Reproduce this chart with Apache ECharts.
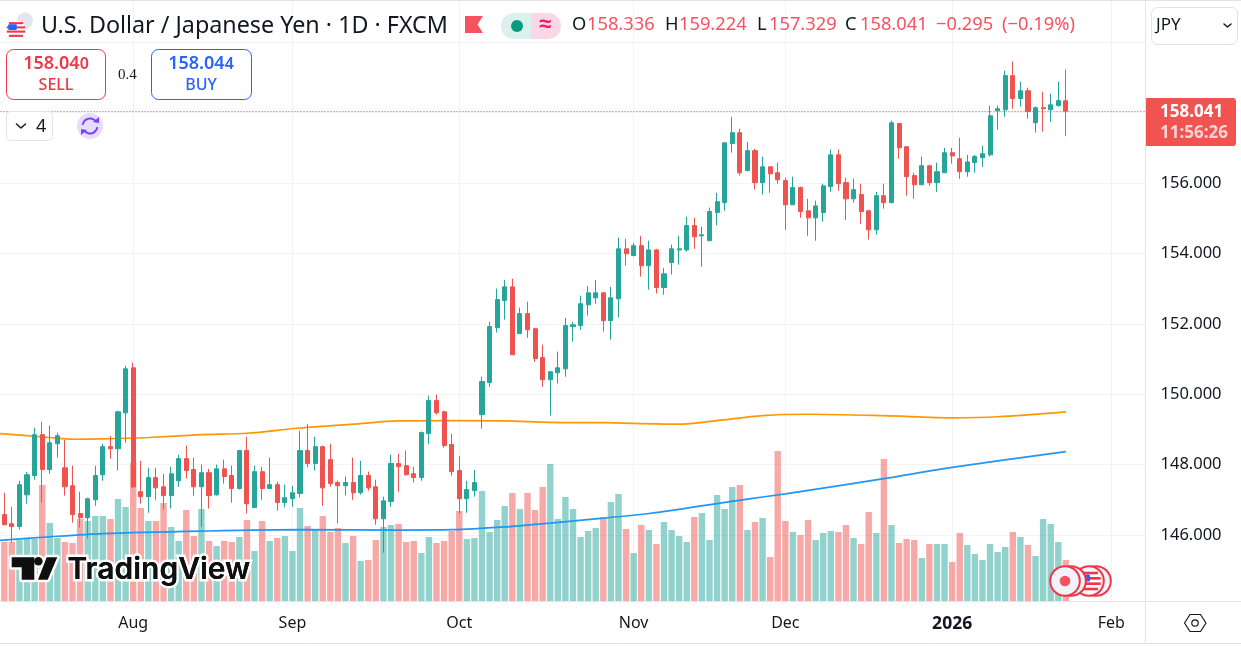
<!DOCTYPE html>
<html>
<head>
<meta charset="utf-8">
<style>html,body{margin:0;padding:0;background:#fff}#c{width:1241px;height:646px}</style>
<script src="https://cdn.jsdelivr.net/npm/echarts@6/dist/echarts.min.js"></script>
</head>
<body>
<div id="c"></div>
<script>
const opens = [146.58,146.32,146.24,147.14,147.69,148.85,147.86,148.59,147.91,147.40,
146.61,146.49,147.00,147.71,148.51,148.45,149.47,150.75,147.23,147.09,
147.63,147.37,147.12,147.54,148.17,147.86,147.37,147.77,147.14,147.88,
147.69,147.32,148.40,146.78,147.80,147.32,147.43,146.92,147.03,147.18,
148.40,148.03,148.51,148.14,147.49,147.40,147.49,147.20,147.69,147.37,
146.46,146.95,148.03,147.97,147.74,147.63,148.88,149.82,149.50,148.57,
147.83,147.03,147.26,149.42,150.33,151.89,152.66,153.05,151.72,152.29,
151.86,151.04,150.41,150.61,150.72,151.92,151.95,152.54,152.74,152.88,
152.09,152.71,154.13,153.94,154.22,153.65,154.10,153.03,153.74,154.10,
154.10,154.79,154.50,154.36,155.16,155.44,157.12,157.43,156.35,156.92,
156.01,156.46,156.29,156.07,155.38,155.87,155.21,155.01,155.16,155.90,
156.80,156.01,155.55,155.67,155.21,154.67,155.64,155.44,157.69,157.03,
156.21,155.95,156.49,156.01,156.29,156.86,156.69,156.32,156.58,156.72,
156.80,158.05,158.08,159.05,158.40,158.62,157.71,158.14,158.08,158.20,158.336];
const closes = [146.29,146.24,147.43,147.71,148.85,147.86,148.62,148.82,147.37,146.58,
146.49,147.03,147.69,148.51,148.45,149.50,150.72,147.37,147.09,147.63,
147.34,147.12,147.74,148.17,147.83,147.37,147.77,147.12,147.88,147.66,
147.32,148.40,146.89,147.80,147.32,147.43,146.92,147.06,147.20,148.40,
148.03,148.51,147.34,147.46,147.40,147.49,147.20,147.69,147.34,146.46,
146.97,148.03,147.94,147.71,147.63,148.91,149.82,149.47,148.54,147.80,
147.03,147.29,147.49,150.36,151.92,152.69,153.05,151.12,152.29,151.83,
151.01,150.41,150.64,150.75,151.95,151.97,152.57,152.88,152.88,152.09,
152.74,154.13,153.99,154.22,153.65,154.10,153.03,153.42,154.13,154.13,
154.79,154.47,154.53,155.19,155.47,157.14,157.43,156.29,156.92,156.01,
156.46,156.26,156.09,155.38,155.87,155.19,155.01,155.35,155.92,156.80,
155.98,155.55,155.81,155.19,154.67,155.64,155.44,157.71,157.00,156.18,
155.95,156.49,156.01,156.32,156.86,156.77,156.32,156.60,156.75,156.83,
157.91,158.11,159.05,158.40,158.62,158.03,158.14,158.11,158.22,158.34,158.041];
const lows = [146.29,145.78,146.16,146.89,147.57,146.92,147.74,148.20,147.12,146.35,
146.21,145.90,146.83,147.54,148.17,147.83,148.62,147.32,146.89,146.63,
147.00,146.72,146.75,147.37,147.60,147.12,146.24,146.75,147.12,147.46,
146.92,147.29,146.61,146.78,147.00,147.32,146.69,146.78,146.80,147.07,
147.92,147.83,146.83,147.37,146.33,147.12,147.00,147.15,147.26,146.29,
145.50,146.80,147.23,147.69,147.49,147.54,148.59,149.42,148.48,147.69,
146.60,146.63,147.09,149.02,150.21,151.75,152.12,151.12,151.72,151.60,
150.92,150.21,149.39,150.30,150.50,151.49,151.83,152.23,152.57,151.78,
151.55,152.18,153.65,153.91,153.34,152.97,152.86,152.83,153.40,153.68,
154.05,154.13,153.62,154.36,154.80,155.21,156.86,156.21,156.35,155.81,
155.67,155.72,155.98,154.67,155.38,155.01,154.50,154.36,154.90,155.75,
155.78,154.95,155.44,154.84,154.39,154.53,155.27,155.44,156.69,155.64,
155.55,155.95,155.92,155.75,156.29,156.55,156.12,156.18,156.29,156.46,
156.75,157.51,157.88,158.11,158.17,157.83,157.43,157.46,157.74,158.17,157.329];
const highs = [147.20,146.80,147.54,147.79,149.05,149.22,149.11,148.91,148.70,147.97,
147.23,147.06,147.97,148.59,148.82,149.53,150.81,150.90,148.11,147.91,
147.91,147.74,147.94,148.28,148.54,148.20,148.00,147.88,148.00,148.14,
147.97,148.42,148.79,147.97,147.94,148.20,147.51,147.43,147.40,148.96,
149.15,148.79,148.54,148.59,147.54,147.66,148.20,148.11,147.80,147.57,
147.09,148.28,148.31,148.40,147.94,148.94,149.96,149.99,149.53,148.88,
148.25,147.54,147.85,150.50,152.06,153.00,153.25,153.28,152.46,152.63,
151.89,151.41,150.64,151.21,152.17,152.06,152.80,153.08,153.25,152.88,
153.05,154.45,154.42,154.30,154.50,154.36,154.13,153.59,154.25,154.50,
155.04,155.01,154.76,155.30,155.72,157.17,157.88,157.54,157.17,156.97,
156.75,156.46,156.58,156.15,156.18,155.90,155.55,155.50,155.98,156.95,
156.95,156.15,156.12,155.98,155.24,155.75,155.98,157.77,157.71,157.03,
156.29,156.75,156.52,156.58,157.00,157.00,157.29,156.80,156.80,157.06,
158.20,158.20,159.19,159.45,158.88,158.71,158.17,158.59,158.54,158.88,159.224];
const volumes = [59,59,61,62,62,116,78,63,59,58,82,80,85,85,82,102,94,138,93,80,
80,98,74,60,91,65,92,60,55,60,59,64,81,50,80,60,63,65,50,93,
75,72,85,69,73,58,65,40,41,61,74,76,77,59,60,48,64,58,60,70,
90,62,63,110,69,81,95,108,92,108,91,114,137,82,104,92,64,70,73,84,
99,107,72,48,76,71,57,79,71,65,59,84,88,61,106,92,114,116,71,79,
83,44,150,80,69,66,81,61,68,70,69,76,63,57,89,68,142,76,58,62,
61,43,57,57,57,39,68,56,47,41,57,49,54,69,64,56,45,82,77,59,41];
const volumeUpOverrides = [137];
const orangeMA = [[-1,148.89],[6,148.77],[9,148.72],[13,148.73],[19,148.77],[26,148.85],[32,148.89],[39,149.04],[46,149.15],[52,149.24],[59,149.25],[66,149.24],[72,149.20],[79,149.19],[89,149.15],[94,149.25],[100,149.39],[106,149.43],[116,149.39],[125,149.33],[131,149.36],[140,149.50]];
const blueMA = [[-1,145.84],[6,145.95],[13,146.04],[26,146.11],[39,146.15],[52,146.14],[59,146.15],[66,146.23],[72,146.34],[79,146.48],[85,146.61],[98,147.02],[103,147.17],[116,147.60],[125,147.92],[140,148.37]];
const tickDates = ['2025-08-01','2025-09-01','2025-10-01','2025-11-03','2025-12-01','2026-01-02','2026-02-02'];
const tickLabels = ['Aug','Sep','Oct','Nov','Dec','{b|2026}','Feb'];
const marketHolidays = ['2025-12-25','2026-01-01'];
const lastPrice = 158.041;

// trading-day categories
const categories = [];
for (let d = new Date(Date.UTC(2025,6,9)); categories.length < 151; d = new Date(d.getTime()+864e5)) {
  const s = d.toISOString().slice(0,10), w = d.getUTCDay();
  if (w !== 0 && w !== 6 && !marketHolidays.includes(s)) categories.push(s);
}
const FONT = '"Noto Sans", sans-serif';
const INK = '#131722', UP = '#26a69a', DOWN = '#ef5350', GRID = '#f2f3f5', EDGE = '#e0e3eb';
const HEADRED = '#f7525f';
const isTick = (i, v) => tickDates.includes(categories[i]);

const candles = opens.map((o,i)=>[o, closes[i], lows[i], highs[i]]);
const vols = volumes.map((v,i)=>{
  const up = closes[i] >= opens[i] || volumeUpOverrides.includes(i);
  return {value:v, itemStyle:{color: up ? 'rgba(38,166,154,0.5)' : 'rgba(239,83,80,0.5)'}};
});

function txt(x,y,text,o={}){
  return {type:'text',z:o.z||50,silent:true,style:{x,y,text,fill:o.fill||INK,
    font:`${o.weight||'normal'} ${o.size||16}px ${o.family||FONT}`,
    textAlign:o.align||'left',textVerticalAlign:'middle',
    stroke:o.stroke,lineWidth:o.lw||0}};
}
function rect(x,y,w,h,o={}){
  return {type:'rect',z:o.z||40,silent:true,shape:{x,y,width:w,height:h,r:o.r||0},
    style:{fill:o.fill||'#fff',stroke:o.stroke,lineWidth:o.lw||0,opacity:o.opacity==null?1:o.opacity}};
}
function line(x1,y1,x2,y2,c,w,z){
  return {type:'line',z:z||30,silent:true,shape:{x1,y1,x2,y2},style:{stroke:c,lineWidth:w||1}};
}
function poly(pts,o={}){
  return {type:o.open?'polyline':'polygon',z:o.z||50,silent:true,shape:{points:pts},
    style:{fill:o.open?null:(o.fill||'none'),stroke:o.stroke,lineWidth:o.lw||0,lineCap:'round',lineJoin:'round'}};
}
function circ(cx,cy,r,o={}){
  return {type:'circle',z:o.z||50,silent:true,shape:{cx,cy,r},style:{fill:o.fill||'#fff',stroke:o.stroke,lineWidth:o.lw||0}};
}
function usFlag(cx,cy,r,z){
  const els=[circ(cx,cy,r,{fill:'#fff',z})];
  const rows=[-6,-2,2,6].map(k=>k*r/9);
  rows.forEach(dy=>{
    const top=dy-r*0.11, hw=Math.sqrt(Math.max(0,r*r-dy*dy));
    els.push(rect(cx-hw,cy+top,2*hw,r*0.22,{fill:'#f23645',z:z+1}));
  });
  els.push(rect(cx-r*0.82,cy-r*0.55,r*0.9,r*0.6,{fill:'#2962ff',z:z+2,r:1}));
  return els;
}

const g = [];
// frame lines
g.push(line(0,0.5,1241,0.5,EDGE,1));
g.push(line(1145.5,0,1145.5,643,EDGE,1));
g.push(line(0,601.5,1241,601.5,EDGE,1));
g.push(line(0,643.5,1241,643.5,EDGE,1));

// title row
g.push(circ(25,20.5,8,{fill:'#e3e6ef'}));
g.push(...usFlag(16,29.5,9.5,51));
g.push(txt(41,26,'U.S. Dollar / Japanese Yen · 1D · FXCM',{size:23.3}));
g.push(poly([[465,16],[483,16],[477.5,24.5],[483,33],[465,33]],{fill:'#f7525f'}));
g.push(rect(501,13,33,26,{fill:'#daf1ee',r:[13,0,0,13]}));
g.push(rect(531,13,30,26,{fill:'#f9d7e6',r:[0,13,13,0]}));
g.push(circ(517,26,6,{fill:'#089981',z:52}));
g.push(txt(545,25,'≈',{size:22,fill:'#e91e63',align:'center',weight:'bold'}));
[['O',572,INK],['158.336',587,HEADRED],['H',665,INK],['159.224',679,HEADRED],['L',757,INK],['157.329',769,HEADRED],['C',845,INK],['158.041',860,HEADRED],['−0.295',936,HEADRED],['(−0.19%)',1002,HEADRED]]
  .forEach(a=>g.push(txt(a[1],25,a[0],{size:18.3,fill:a[2]})));

// trade buttons
g.push(rect(6.5,49.5,99,50,{fill:'#fff',stroke:'#f23645',lw:1,r:7}));
g.push({type:'text',z:50,silent:true,style:{x:56,y:64,text:'{a|158.04}{c|0}',align:'center',verticalAlign:'middle',rich:{a:{font:`600 18px ${FONT}`,fill:'#f23645'},c:{font:`600 16px ${FONT}`,fill:'#f23645'}}}});
g.push(txt(56,85,'SELL',{size:16,weight:'500',fill:'#f23645',align:'center'}));
g.push(txt(118,75,'0.4',{size:15,family:'"Liberation Serif",serif',fill:INK}));
g.push(rect(151.5,49.5,100,50,{fill:'#fff',stroke:'#2962ff',lw:1,r:7}));
g.push({type:'text',z:50,silent:true,style:{x:201,y:64,text:'{a|158.04}{c|4}',align:'center',verticalAlign:'middle',rich:{a:{font:`600 18px ${FONT}`,fill:'#2962ff'},c:{font:`600 16px ${FONT}`,fill:'#2962ff'}}}});
g.push(txt(201,85,'BUY',{size:16,weight:'500',fill:'#2962ff',align:'center'}));
g.push(rect(6.5,111.5,46,29,{fill:'#fff',stroke:EDGE,lw:1,r:4}));
g.push(poly([[16.5,124],[21,128],[25.5,124]],{open:true,stroke:INK,lw:1.5}));
g.push(txt(36,127,'4',{size:18}));
// sync badge
g.push(circ(90,126,13,{fill:'#e6dcff'}));
g.push({type:'arc',z:52,silent:true,shape:{cx:90,cy:126,r:7.5,startAngle:Math.PI*1.05,endAngle:Math.PI*1.8,clockwise:true},style:{stroke:'#7e3ff2',lineWidth:2,fill:'none'}});
g.push({type:'arc',z:52,silent:true,shape:{cx:90,cy:126,r:7.5,startAngle:Math.PI*0.05,endAngle:Math.PI*0.8,clockwise:true},style:{stroke:'#7e3ff2',lineWidth:2,fill:'none'}});
g.push(poly([[99,117],[99,123],[93,122]],{fill:'#7e3ff2'}));
g.push(poly([[81,135],[81,129],[87,130]],{fill:'#7e3ff2'}));

// JPY selector + price tag + settings
g.push(rect(1151.5,7.5,86,37,{fill:'#fff',stroke:EDGE,lw:1,r:6,z:45}));
g.push(txt(1156,25,'JPY',{size:17}));
g.push(poly([[1224,24],[1227.5,27],[1231,24]],{open:true,stroke:INK,lw:1.5}));
g.push(rect(1146,98,90,48,{fill:'#f05350',r:[0,3,3,0],z:45}));
g.push(txt(1160,112,'158.041',{size:17,fill:'#fff',weight:'bold'}));
g.push(txt(1160,133,'11:56:26',{size:17,fill:'rgba(255,255,255,0.75)',weight:'bold'}));
g.push(poly([[1184.5,623],[1190,614.5],[1200.5,614.5],[1206,623],[1200.5,631.5],[1190,631.5]],{stroke:INK,lw:1.2}));
g.push({type:'circle',z:50,silent:true,shape:{cx:1195,cy:623,r:3.2},style:{fill:'none',stroke:INK,lineWidth:1.2}});

// watermark
const WSTROKE={stroke:'#fff',lw:5};
g.push(poly([[11.7,557.3],[34.3,557.3],[34.3,579.7],[21.7,579.7],[21.7,567.3],[11.7,567.3]],{fill:'#0f0f0f',...WSTROKE,z:48}));
g.push(poly([[46.7,557.3],[57.3,557.3],[47.7,579.7],[38,579.7]],{fill:'#0f0f0f',...WSTROKE,z:48}));
g.push(circ(38.3,561.3,4.3,{fill:'#0f0f0f',...WSTROKE,z:48}));
g.push(poly([[11.7,557.3],[34.3,557.3],[34.3,579.7],[21.7,579.7],[21.7,567.3],[11.7,567.3]],{fill:'#0f0f0f',z:49}));
g.push(poly([[46.7,557.3],[57.3,557.3],[47.7,579.7],[38,579.7]],{fill:'#0f0f0f',z:49}));
g.push(circ(38.3,561.3,4.3,{fill:'#0f0f0f',z:49}));
g.push(txt(67.5,570,'TradingView',{size:30,weight:'600',family:'Inter, sans-serif',fill:'#0f0f0f',stroke:'#fff',lw:5,z:48}));
g.push(txt(67.5,570,'TradingView',{size:30,weight:'600',family:'Inter, sans-serif',fill:'#0f0f0f',z:49}));

// event markers
const EV={fill:'#f0f3fa',stroke:'#f23645',lw:2};
g.push(circ(1096,581,14.8,{...EV,z:60}));
g.push(circ(1089,581,14.8,{...EV,z:61}));
usFlag(1089,581,12,62).forEach(e=>g.push(e));
g.push(circ(1071,581,14.8,{...EV,z:66}));
g.push(circ(1065,581,14.8,{...EV,z:67}));
g.push(circ(1065,581,5.3,{fill:'#f7525f',z:68}));

const option = {
  animation:false,
  backgroundColor:'#fff',
  textStyle:{fontFamily:FONT},
  grid:[
    {left:0.5,width:1145,top:-28.2,height:633.6,containLabel:false,outerBoundsMode:'none'},
    {left:0.5,width:1145,top:1,height:600,containLabel:false,outerBoundsMode:'none'}
  ],
  xAxis:[
    {type:'category',gridIndex:0,data:categories,boundaryGap:true,
     axisLine:{show:false},axisTick:{show:false},axisLabel:{show:false},splitLine:{show:false}},
    {type:'category',gridIndex:1,data:categories,boundaryGap:true,
     axisLine:{show:false},axisTick:{show:false},
     axisLabel:{interval:isTick,margin:14,fontSize:16,color:INK,fontFamily:FONT,
       formatter:(v)=>{const k=tickDates.indexOf(v);return k<0?'':tickLabels[k];},
       rich:{b:{fontWeight:'bold',fontSize:17.5,color:INK,fontFamily:FONT}}},
     splitLine:{show:true,alignWithLabel:true,interval:isTick,lineStyle:{color:GRID,width:1}}}
  ],
  yAxis:[
    {type:'value',gridIndex:0,position:'right',min:144,max:162,interval:2,
     axisLine:{show:false},axisTick:{show:false},
     axisLabel:{margin:15,fontSize:16.5,color:INK,fontFamily:FONT,showMinLabel:false,showMaxLabel:false,
       formatter:(v)=>v<=156?v.toFixed(3):''},
     splitLine:{show:true,showMinLine:false,showMaxLine:false,lineStyle:{color:GRID,width:1}}},
    {type:'value',gridIndex:1,min:0,max:600,show:false,splitLine:{show:false}}
  ],
  series:[
    {type:'bar',name:'Volume',xAxisIndex:1,yAxisIndex:1,data:vols,barWidth:6.4,z:1,silent:true},
    {type:'line',name:'MA slow',xAxisIndex:0,yAxisIndex:0,data:orangeMA,showSymbol:false,smooth:0.3,z:2,silent:true,
     lineStyle:{color:'#ff9800',width:1.7}},
    {type:'line',name:'MA fast',xAxisIndex:0,yAxisIndex:0,data:blueMA,showSymbol:false,smooth:0.3,z:2,silent:true,
     lineStyle:{color:'#2196f3',width:1.7}},
    {type:'candlestick',name:'USDJPY',xAxisIndex:0,yAxisIndex:0,data:candles,barWidth:4.6,z:3,silent:true,
     itemStyle:{color:UP,color0:DOWN,borderColor:UP,borderColor0:DOWN,borderWidth:1},
     markLine:{silent:true,symbol:'none',label:{show:false},animation:false,
       lineStyle:{color:DOWN,type:[1,2],width:1,opacity:1},data:[{yAxis:lastPrice}]}}
  ],
  graphic:{elements:g}
};
const chart = echarts.init(document.getElementById('c'),null,{renderer:'canvas',width:1241,height:646});
chart.setOption(option);
</script>
</body>
</html>
